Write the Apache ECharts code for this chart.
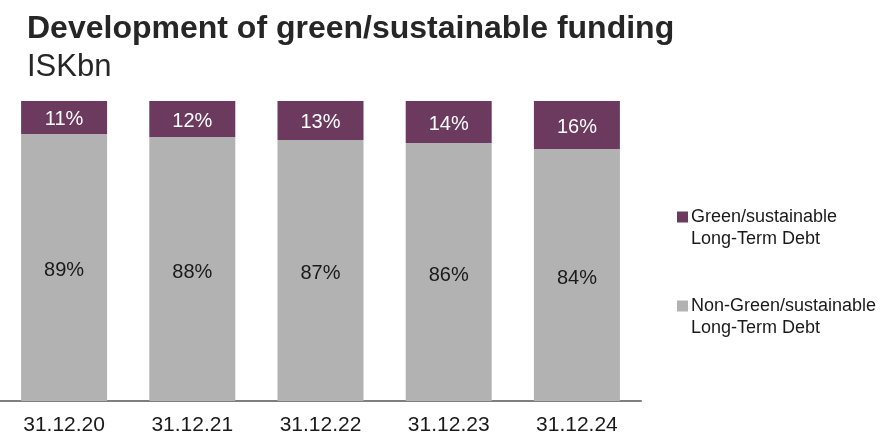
<!DOCTYPE html>
<html>
<head>
<meta charset="utf-8">
<script src="https://cdn.jsdelivr.net/npm/echarts@6/dist/echarts.min.js"></script>
<style>html,body{margin:0;padding:0;background:#fff;}#c{width:888px;height:443px;}</style>
</head>
<body>
<div id="c"></div>
<script>
const categories = ['31.12.20', '31.12.21', '31.12.22', '31.12.23', '31.12.24'];
const greenShare = [11, 12, 13, 14, 16];
const nonGreenShare = [89, 88, 87, 86, 84];
const seriesNames = ['Green/sustainable\nLong-Term Debt', 'Non-Green/sustainable\nLong-Term Debt'];
const titleText = 'Development of green/sustainable funding';
const subtitleText = 'ISKbn';

const PURPLE = '#6b3a5e';
const GREY = '#b2b2b2';
const FONT = '"Liberation Sans", Arial, sans-serif';

const chart = echarts.init(document.getElementById('c'), null, {renderer: 'canvas'});

function legendFmt(name) {
  const parts = name.split('\n');
  return '{sq|}{gap|}{t|' + parts[0] + '}\n{ind|}{t|' + parts[1] + '}';
}
function legendRich(color) {
  return {
    sq: {width: 11, height: 11, backgroundColor: color},
    gap: {width: 3},
    ind: {width: 14},
    t: {fontSize: 18, color: '#1a1a1a', fontFamily: FONT, lineHeight: 22}
  };
}

chart.setOption({
  animation: false,
  backgroundColor: '#fff',
  textStyle: {fontFamily: FONT},
  title: [
    {text: titleText, left: 22, top: 8, textStyle: {fontSize: 32, fontWeight: 'bold', color: '#262626', fontFamily: FONT}},
    {text: subtitleText, left: 22, top: 47, textStyle: {fontSize: 31, fontWeight: 'normal', color: '#262626', fontFamily: FONT}}
  ],
  legend: [
    {
      data: [seriesNames[0]], left: 667, top: 203, icon: 'none', itemWidth: 0, itemGap: 0,
      formatter: legendFmt, textStyle: {rich: legendRich(PURPLE)}, selectedMode: false
    },
    {
      data: [seriesNames[1]], left: 667, top: 292, icon: 'none', itemWidth: 0, itemGap: 0,
      formatter: legendFmt, textStyle: {rich: legendRich(GREY)}, selectedMode: false
    }
  ],
  grid: {left: -4, width: 645, top: 101, bottom: 42, containLabel: false},
  xAxis: {
    type: 'category',
    data: categories,
    axisLine: {lineStyle: {color: '#7f7f7f', width: 2}},
    axisTick: {show: false},
    axisLabel: {fontSize: 21, color: '#1a1a1a', margin: 14, fontFamily: FONT}
  },
  yAxis: {type: 'value', min: 0, max: 100, show: false, splitLine: {show: false}},
  series: [
    {
      name: seriesNames[1], type: 'bar', stack: 's', data: nonGreenShare, barWidth: 86,
      itemStyle: {color: GREY},
      label: {show: true, position: 'inside', offset: [0, 3], formatter: '{c}%', fontSize: 20, color: '#1a1a1a', fontFamily: FONT}
    },
    {
      name: seriesNames[0], type: 'bar', stack: 's', data: greenShare, barWidth: 86,
      itemStyle: {color: PURPLE},
      label: {show: true, position: 'inside', offset: [0, 2], formatter: '{c}%', fontSize: 20, color: '#ffffff', fontFamily: FONT}
    }
  ]
});
</script>
</body>
</html>
